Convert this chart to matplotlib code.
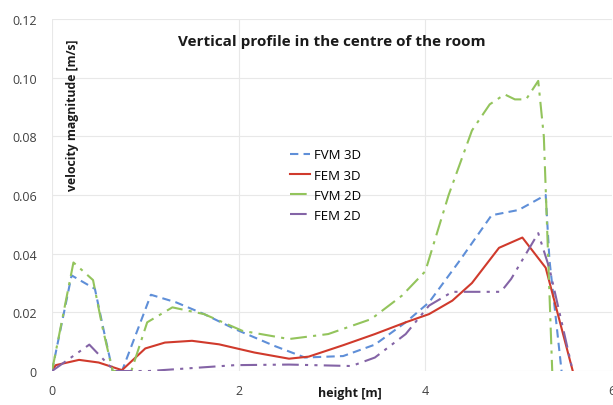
import matplotlib.pyplot as plt

# values
fvm3d_x = [0, 0.21, 0.46, 0.56, 0.65, 0.75, 1.06, 1.33, 1.63, 1.96, 2.38, 2.71, 3.12, 3.46, 3.79, 4.04, 4.37, 4.71, 5.0, 5.29, 5.33, 5.46]
fvm3d_y = [0, 0.0326, 0.028, 0.013, 0, 0, 0.026, 0.0234, 0.0194, 0.0143, 0.0086, 0.0046, 0.0051, 0.009, 0.0166, 0.0234, 0.0377, 0.0531, 0.0549, 0.060, 0.038, 0]

fem3d_x = [0, 0.04, 0.29, 0.5, 0.75, 1.0, 1.21, 1.5, 1.79, 2.17, 2.54, 2.75, 3.12, 3.46, 3.79, 4.04, 4.29, 4.5, 4.79, 5.04, 5.29, 5.58]
fem3d_y = [0, 0.002, 0.0038, 0.0029, 0.0003, 0.0077, 0.0097, 0.0103, 0.0091, 0.0063, 0.0042, 0.0049, 0.0088, 0.0126, 0.0166, 0.0194, 0.024, 0.030, 0.042, 0.0455, 0.0352, 0]

fvm2d_x = [0, 0.23, 0.44, 0.54, 0.65, 0.85, 1.02, 1.29, 1.63, 2.04, 2.54, 2.96, 3.42, 3.75, 4.0, 4.25, 4.5, 4.69, 4.85, 4.96, 5.08, 5.21, 5.27, 5.36]
fvm2d_y = [0, 0.037, 0.031, 0.015, 0, 0, 0.0166, 0.0217, 0.0194, 0.0137, 0.0109, 0.0126, 0.0177, 0.0257, 0.034, 0.060, 0.082, 0.0909, 0.0943, 0.0926, 0.0926, 0.0989, 0.080, 0]

fem2d_x = [0, 0.4, 0.67, 0.75, 1.04, 1.96, 2.54, 3.21, 3.46, 3.79, 4.04, 4.29, 4.81, 4.92, 5.21, 5.33, 5.58]
fem2d_y = [0, 0.009, 0, 0, 0, 0.002, 0.0022, 0.0017, 0.0046, 0.0126, 0.0223, 0.027, 0.027, 0.0314, 0.047, 0.035, 0]

xticks = [0, 2, 4, 6]
yticks = [0, 0.02, 0.04, 0.06, 0.08, 0.10, 0.12]
ytick_labels = ['0', '0.02', '0.04', '0.06', '0.08', '0.10', '0.12']

plt.rcParams['font.family'] = ['Open Sans', 'DejaVu Sans']

fig = plt.figure(figsize=(6.13, 4.06), dpi=100)
ax = fig.add_axes([0.0848, 0.0837, 0.9135, 0.867])

ax.plot(fvm3d_x, fvm3d_y, color='#5f8fd8', lw=1.5, ls=(0, (4, 2.5)), label='FVM 3D')
ax.plot(fem3d_x, fem3d_y, color='#d03a2c', lw=1.5, label='FEM 3D')
ax.plot(fvm2d_x, fvm2d_y, color='#93c45c', lw=1.5, ls=(0, (8, 3, 1.5, 3)), label='FVM 2D')
ax.plot(fem2d_x, fem2d_y, color='#8464a6', lw=1.5, ls=(0, (8, 3, 1.5, 3, 1.5, 3)), label='FEM 2D')

ax.set_xlim(0, 6)
ax.set_ylim(0, 0.12)
ax.set_xticks(xticks)
ax.set_yticks(yticks)
ax.set_yticklabels(ytick_labels)
ax.tick_params(axis='y', length=0, labelsize=9, colors='#404040', pad=11)
ax.tick_params(axis='x', length=0, labelsize=9, colors='#404040', pad=9)
ax.grid(True, color='#e8e8e8', lw=0.8)
ax.set_axisbelow(True)
for s in ax.spines.values():
    s.set_visible(False)

ax.text(0.5, 0.9375, 'Vertical profile in the centre of the room', transform=ax.transAxes,
        ha='center', va='center', fontsize=11, fontweight='bold', color='#1a1a1a')
ax.text(0.0375, 0.73, 'velocity magnitude [m/s]', transform=ax.transAxes, rotation=90,
        ha='center', va='center', fontsize=8.8, fontweight='bold', color='#1a1a1a')
ax.text(0.532, -0.062, 'height [m]', transform=ax.transAxes,
        ha='center', va='center', fontsize=9, fontweight='bold', color='#1a1a1a')

ax.legend(loc='center', bbox_to_anchor=(0.489, 0.528), frameon=False, fontsize=9.5,
          handlelength=1.5, handletextpad=0.3, labelspacing=0.55, borderpad=0.2)

fig.savefig('out.png', dpi=100)
